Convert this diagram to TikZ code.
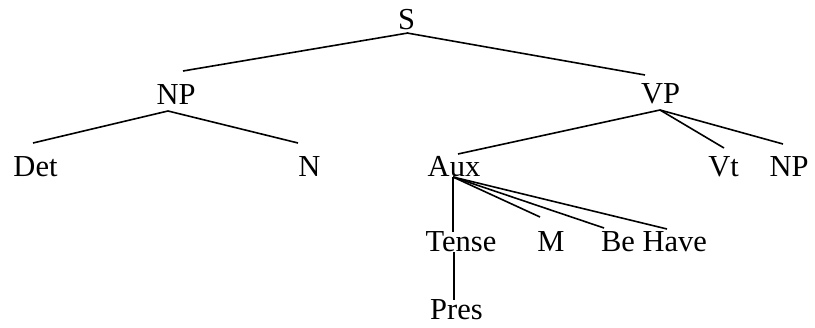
\documentclass[tikz,border=0pt]{standalone}
\usepackage{fontspec}
\setmainfont{Liberation Serif}
\begin{document}
\begin{tikzpicture}[x=1pt,y=-1pt,
  lbl/.style={anchor=base,inner sep=0pt,font=\fontsize{30.5}{36}\selectfont},
  branch/.style={line width=1.6pt}]
\useasboundingbox (0,0) rectangle (815,328);
% nodes (base anchor at text centre / baseline)
\node[lbl] (S)     at (406.5,30) {S};
\node[lbl] (NP)    at (176,105)  {NP};
\node[lbl] (VP)    at (660.5,104) {VP};
\node[lbl] (Det)   at (35.5,177) {Det};
\node[lbl] (N)     at (309.5,177) {N};
\node[lbl] (Aux)   at (454,177)  {Aux};
\node[lbl] (Vt)    at (723.5,177) {Vt};
\node[lbl] (NPb)   at (789,177)  {NP};
\node[lbl] (Tense) at (461,252)  {Tense};
\node[lbl] (M)     at (551,252)  {M};
\node[lbl] (Be)    at (618,252)  {Be};
\node[lbl] (Have)  at (674.7,252) {Have};
\node[lbl] (Pres)  at (456.5,320) {Pres};
% branches
\draw[branch] ([shift={(1.5,3)}]S.base) -- ([shift={(7,-34)}]NP.base);
\draw[branch] ([shift={(0.5,3)}]S.base) -- ([shift={(-15.5,-29)}]VP.base);
\draw[branch] ([shift={(-8,6)}]NP.base) -- ([shift={(-2.5,-34)}]Det.base);
\draw[branch] ([shift={(-8,6)}]NP.base) -- ([shift={(-11.5,-34)}]N.base);
\draw[branch] ([shift={(-0.5,6)}]VP.base) -- ([shift={(4,-23)}]Aux.base);
\draw[branch] ([shift={(-0.5,6)}]VP.base) -- ([shift={(0.5,-29)}]Vt.base);
\draw[branch] ([shift={(-0.5,6)}]VP.base) -- ([shift={(-6,-33)}]NPb.base);
\draw[branch] ([shift={(-1,0)}]Aux.base) -- ([shift={(-8,-20)}]Tense.base);
\draw[branch] ([shift={(-1,0)}]Aux.base) -- ([shift={(-11,-35)}]M.base);
\draw[branch] ([shift={(-1,0)}]Aux.base) -- ([shift={(-14,-24)}]Be.base);
\draw[branch] ([shift={(-1,0)}]Aux.base) -- ([shift={(-7.7,-23)}]Have.base);
\draw[branch] ([shift={(-7,0)}]Tense.base) -- ([shift={(-2.5,-20)}]Pres.base);
\end{tikzpicture}
\end{document}
